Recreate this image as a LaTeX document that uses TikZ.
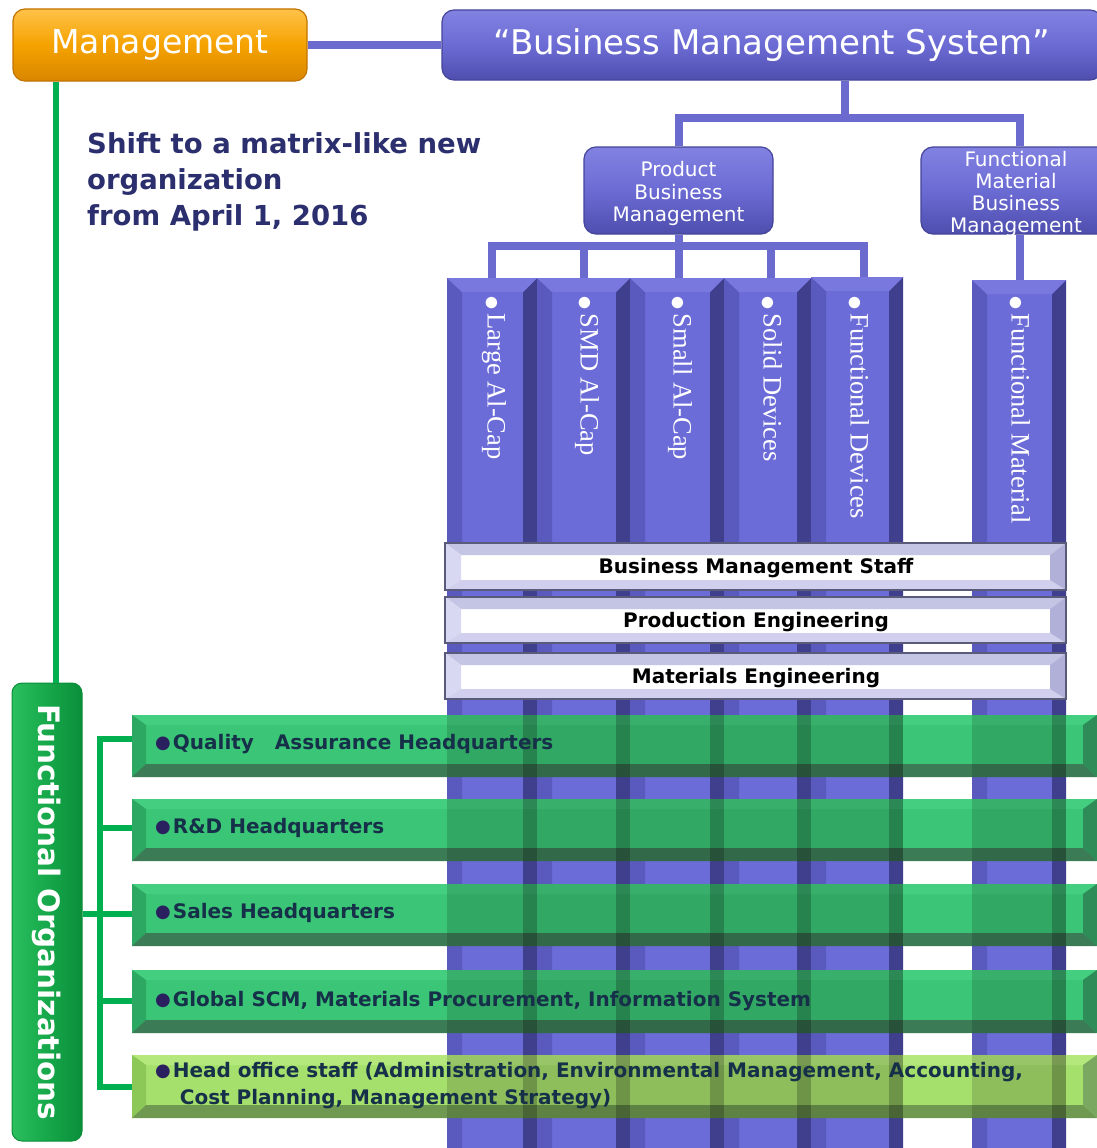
\documentclass[tikz,border=0pt]{standalone}
\usepackage{fontspec}
\setmainfont{DejaVu Sans}
\newfontfamily\colfont{Liberation Serif}
\usetikzlibrary{calc}
\definecolor{blueLn}{HTML}{6B6BCF}
\definecolor{bbTop}{HTML}{8282E2}
\definecolor{bbMid}{HTML}{6B6BD4}
\definecolor{bbBot}{HTML}{4E4EAE}
\definecolor{bbEdge}{HTML}{45459A}
\definecolor{mgTop}{HTML}{FFC24A}
\definecolor{mgMid}{HTML}{F5A200}
\definecolor{mgBot}{HTML}{D98600}
\definecolor{mgEdge}{HTML}{C27400}
\definecolor{colFace}{HTML}{6C6CD8}
\definecolor{colLeft}{HTML}{5A5ABE}
\definecolor{colRight}{HTML}{3F3F8E}
\definecolor{colTop}{HTML}{7878DE}
\definecolor{grnLn}{HTML}{00B050}
\definecolor{gFace}{HTML}{3AC676}
\definecolor{gTop}{HTML}{44CE80}
\definecolor{gLeft}{HTML}{2CA862}
\definecolor{gBot}{HTML}{3B7C56}
\definecolor{gRight}{HTML}{2E8C58}
\definecolor{hFace}{HTML}{A6E06C}
\definecolor{hTop}{HTML}{B4E87C}
\definecolor{hLeft}{HTML}{8CC858}
\definecolor{hBot}{HTML}{6F9850}
\definecolor{hRight}{HTML}{7AA860}
\definecolor{stTop}{HTML}{C4C4E4}
\definecolor{stLeft}{HTML}{D8D8F2}
\definecolor{stBot}{HTML}{D0D0EE}
\definecolor{stRight}{HTML}{B0B0D8}
\definecolor{stEdge}{HTML}{5A5A7A}
\definecolor{navyTxt}{HTML}{2B2F6E}
\definecolor{barTxt}{HTML}{16304A}
\definecolor{bulNavy}{HTML}{2A2060}
\definecolor{foL}{HTML}{2BBF5E}
\definecolor{foM}{HTML}{16A84A}
\definecolor{foR}{HTML}{0B8E3A}
\newcommand\fs[2]{\fontsize{#1}{#2}\selectfont}
\newcommand\colbar[3]{%
  \fill[colFace] (#1,#3) rectangle (#2,1150);
  \fill[colLeft] (#1,#3) -- ({#1+15},{#3+14}) -- ({#1+15},1150) -- (#1,1150) -- cycle;
  \fill[colRight] (#2,#3) -- ({#2-14},{#3+14}) -- ({#2-14},1150) -- (#2,1150) -- cycle;
  \fill[colTop] (#1,#3) -- (#2,#3) -- ({#2-14},{#3+14}) -- ({#1+15},{#3+14}) -- cycle;
}
\newcommand\staffbar[2]{%
  \fill[white] (445,#1) rectangle (1066,#2);
  \fill[stTop] (445,#1) -- (1066,#1) -- (1050,{#1+12}) -- (461,{#1+12}) -- cycle;
  \fill[stLeft] (445,#1) -- (461,{#1+12}) -- (461,{#2-10}) -- (445,#2) -- cycle;
  \fill[stBot] (445,#2) -- (461,{#2-10}) -- (1050,{#2-10}) -- (1066,#2) -- cycle;
  \fill[stRight] (1066,#1) -- (1050,{#1+12}) -- (1050,{#2-10}) -- (1066,#2) -- cycle;
  \draw[stEdge,line width=1.5pt] (445,#1) rectangle (1066,#2);
}
\newcommand\gbar[7]{%
  \fill[#3] (132,#1) rectangle (1097,#2);
  \fill[#4] (132,#1) -- (1097,#1) -- (1083,{#1+10}) -- (146,{#1+10}) -- cycle;
  \fill[#5] (132,#1) -- (146,{#1+10}) -- (146,{#2-13}) -- (132,#2) -- cycle;
  \fill[#6] (132,#2) -- (146,{#2-13}) -- (1083,{#2-13}) -- (1097,#2) -- cycle;
  \fill[#7] (1097,#1) -- (1083,{#1+10}) -- (1083,{#2-13}) -- (1097,#2) -- cycle;
}
\begin{document}
\begin{tikzpicture}[x=1pt,y=-1pt,
  bline/.style={draw=blueLn,line width=8pt},
  gline/.style={draw=grnLn,line width=6pt},
  bbox/.style={rounded corners=12pt,top color=bbTop,bottom color=bbBot,middle color=bbMid,draw=bbEdge,line width=1.2pt,text=white,align=center,inner sep=0pt},
  boxText/.style={text=white,align=center,inner sep=0pt},
  mgbox/.style={rounded corners=12pt,top color=mgTop,bottom color=mgBot,middle color=mgMid,draw=mgEdge,line width=1.2pt,text=white,inner sep=0pt},
  colText/.style={rotate=-90,anchor=west,text=white,font=\colfont\fs{26.5}{28},inner sep=0pt},
  staffText/.style={font=\bfseries\fs{20}{22},text=black,inner sep=0pt},
  barText/.style={anchor=west,font=\bfseries\fs{20}{27},text=barTxt,inner sep=0pt,align=left},
  shiftText/.style={anchor=base west,font=\bfseries\fs{27.5}{36},text=navyTxt,inner sep=0pt}
]
\clip (0,0) rectangle (1097,1148);
\fill[white] (0,0) rectangle (1097,1148);

% columns
\colbar{447}{537}{278}
\colbar{537}{630}{278}
\colbar{630}{724}{278}
\colbar{724}{811}{278}
\colbar{811}{903}{277}
\colbar{972}{1066}{280}

\coordinate (c1) at (492,278);
\coordinate (c2) at (584,278);
\coordinate (c3) at (678.5,278);
\coordinate (c4) at (771,278);
\coordinate (c5) at (864,277);
\coordinate (c6) at (1020,280);

\newcommand\cbul{{\rmfamily\fs{15}{15}●}}
\node[colText] (t1) at (494,296) {\cbul\,Large Al-Cap};
\node[colText] (t2) at (587,296) {\cbul\,SMD Al-Cap};
\node[colText] (t3) at (680,296) {\cbul\,Small Al-Cap};
\node[colText] (t4) at (772,296) {\cbul\,Solid Devices};
\node[colText] (t5) at (859,296) {\cbul\,Functional Devices};
\node[colText] (t6) at (1020,296) {\cbul\,Functional Material};

% staff bars
\staffbar{543}{590}
\staffbar{597}{643}
\staffbar{653}{699}
\node[staffText] (s1) at (756,568) {Business Management Staff};
\node[staffText] (s2) at (756,622) {Production Engineering};
\node[staffText] (s3) at (756,678) {Materials Engineering};

% green bars
\gbar{715}{777}{gFace}{gTop}{gLeft}{gBot}{gRight}
\gbar{799}{861}{gFace}{gTop}{gLeft}{gBot}{gRight}
\gbar{884}{946}{gFace}{gTop}{gLeft}{gBot}{gRight}
\gbar{970}{1033}{gFace}{gTop}{gLeft}{gBot}{gRight}
\gbar{1055}{1118}{hFace}{hTop}{hLeft}{hBot}{hRight}
\begin{scope}
  \clip (132,715) rectangle (1097,777) (132,799) rectangle (1097,861)
        (132,884) rectangle (1097,946) (132,970) rectangle (1097,1033)
        (132,1055) rectangle (1097,1118);
  \foreach \l/\r in {447/537,537/630,630/724,724/811,811/903,972/1066}{
    \fill[black,opacity=0.15] (\l,700) rectangle (\r,1130);
    \fill[black,opacity=0.22] ({\r-14},700) rectangle (\r,1130);
  }
\end{scope}

\newcommand\gbul{{\color{bulNavy}\rmfamily\raisebox{1.2pt}{\fs{18}{18}●}}\hspace{2pt}}
\node[barText] (gq) at (155,744) {\gbul Quality\hspace{0.7em} Assurance Headquarters};
\node[barText] (gr) at (155,828) {\gbul R\&D Headquarters};
\node[barText] (gs) at (155,913) {\gbul Sales Headquarters};
\node[barText] (gg) at (155,1001) {\gbul Global SCM, Materials Procurement, Information System};
\node[barText] (gh) at (155,1086) {\gbul Head office staff (Administration, Environmental Management, Accounting,\\\phantom{\gbul} Cost Planning, Management Strategy)};

% top boxes
\node[mgbox,minimum width=294pt,minimum height=72pt,font=\fs{33}{36}] (mgmt) at (160,45) {\raisebox{-3pt}{Management}};
\node[bbox,minimum width=660pt,minimum height=70pt,font=\fs{34}{36}] (bms) at (772,45) {\raisebox{-3pt}{“Business Management System”}};
\node[bbox,minimum width=189pt,minimum height=87pt] (pbm) at (678.5,190.5) {};
\node[boxText,font=\fs{20}{22.5}] (pbmt) at (678.5,193.5) {Product\\Business\\Management};
\node[bbox,minimum width=198pt,minimum height=87pt] (fmbm) at (1020,190.5) {};
\node[boxText,font=\fs{20}{22}] (fmbmt) at (1016,193.5) {Functional\\Material\\Business\\Management};

% functional organizations box
\node[rounded corners=10pt,left color=foL,right color=foR,middle color=foM,draw=foR,line width=1pt,minimum width=70pt,minimum height=458pt,inner sep=0pt] (fo) at (47,912) {};
\node[rotate=-90,text=white,font=\bfseries\fs{29.5}{30},inner sep=0pt] (fot) at (fo.center) {Functional Organizations};

% shift text
\node[shiftText] (sh1) at (87,153) {Shift to a matrix-like new};
\node[shiftText] (sh2) at (87,189) {organization};
\node[shiftText] (sh3) at (87,225) {from April 1, 2016};

% blue connectors
\coordinate (bmsj) at (845,118);
\coordinate (pj) at (678.5,246);
\draw[bline] (mgmt.east) -- (bms.west);
\draw[bline] (bms.south -| bmsj) -- (bmsj);
\draw[bline] (pbm.north) -- (pbm.north |- bmsj) -- (fmbm.north |- bmsj) -- (fmbm.north);
\draw[bline] (pbm.south) -- (pj);
\draw[bline] (c1) -- (c1 |- pj) -- (c5 |- pj) -- (c5);
\draw[bline] (c2) -- (c2 |- pj);
\draw[bline] (c3) -- (c3 |- pj);
\draw[bline] (c4) -- (c4 |- pj);
\draw[bline] (fmbm.south) -- (c6);

% green connectors
\coordinate (bq) at (132,739);
\coordinate (br) at (132,828);
\coordinate (bs) at (132,914);
\coordinate (bg) at (132,1001);
\coordinate (bh) at (132,1087);
\coordinate (tq) at (100,739);
\coordinate (tr) at (100,828);
\coordinate (tg) at (100,1001);
\coordinate (th) at (100,1087);
\draw[gline] ([xshift=44pt]mgmt.south west) -- ([xshift=44pt]mgmt.south west |- fo.north);
\draw[gline] (bq) -- (tq) -- (th) -- (bh);
\draw[gline] (tr) -- (br);
\draw[gline] (tg) -- (bg);
\draw[gline] (fo.east |- bs) -- (bs);
\end{tikzpicture}
\end{document}
